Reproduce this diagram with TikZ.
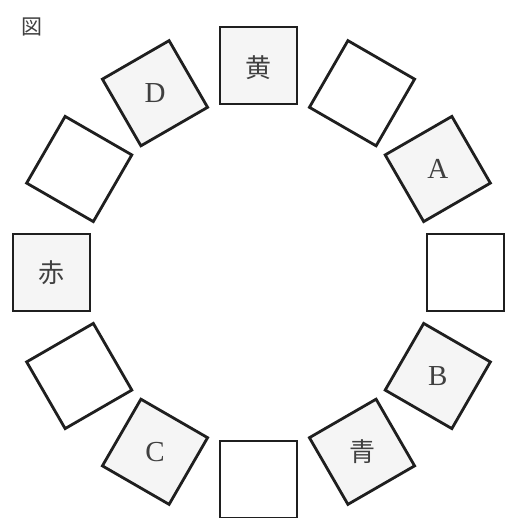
\documentclass[tikz,border=0pt]{standalone}
\usepackage{fontspec}
\usetikzlibrary{calc}
\setmainfont{Liberation Serif}
\newfontfamily\jp{Noto Sans CJK JP}
\definecolor{boxfill}{gray}{0.96}
\definecolor{ink}{gray}{0.12}
\tikzset{
  sqbox/.style={draw=ink, line width=2.8pt, minimum size=77pt, inner sep=0pt, shape=rectangle},
  filledbox/.style={sqbox, fill=boxfill},
  emptybox/.style={sqbox, fill=white},
  lat/.style={font=\fontsize{29}{29}\selectfont, text=ink!85, inner sep=0pt},
  kan/.style={font=\jp\fontsize{26}{26}\selectfont, text=ink!85, inner sep=0pt},
}
\begin{document}
\begin{tikzpicture}[x=1pt,y=1pt]
\useasboundingbox (0,0) rectangle (507,-518);
\coordinate (O) at (258.5,-272.5);
\node[kan, font=\jp\fontsize{21}{21}\selectfont] (fig) at (32,-27) {図};
% squares
\node[filledbox, rotate=90]  (s90)  at ($(O)+(90:207)$)  {};
\node[emptybox,  rotate=60]  (s60)  at ($(O)+(60:207)$)  {};
\node[filledbox, rotate=30]  (s30)  at ($(O)+(30:207)$)  {};
\node[emptybox,  rotate=0]   (s0)   at ($(O)+(0:207)$)   {};
\node[filledbox, rotate=-30] (sm30) at ($(O)+(-30:207)$) {};
\node[filledbox, rotate=-60] (sm60) at ($(O)+(-60:207)$) {};
\node[emptybox,  rotate=-90] (sm90) at ($(O)+(-90:207)$) {};
\node[filledbox, rotate=-120] (sm120) at ($(O)+(-120:207)$) {};
\node[emptybox,  rotate=-150] (sm150) at ($(O)+(-150:207)$) {};
\node[filledbox, rotate=180] (s180) at ($(O)+(180:207)$) {};
\node[emptybox,  rotate=150] (s150) at ($(O)+(150:207)$) {};
\node[filledbox, rotate=120] (s120) at ($(O)+(120:207)$) {};
% labels
\node[kan] (t90)   at ([yshift=-2pt]s90.center)  {黄};
\node[lat] (t30)   at (s30.center)   {A};
\node[lat] (tm30)  at (sm30.center)  {B};
\node[kan] (tm60)  at (sm60.center)  {青};
\node[lat] (tm120) at (sm120.center) {C};
\node[kan] (t180)  at (s180.center)  {赤};
\node[lat] (t120)  at (s120.center)  {D};
\end{tikzpicture}
\end{document}
